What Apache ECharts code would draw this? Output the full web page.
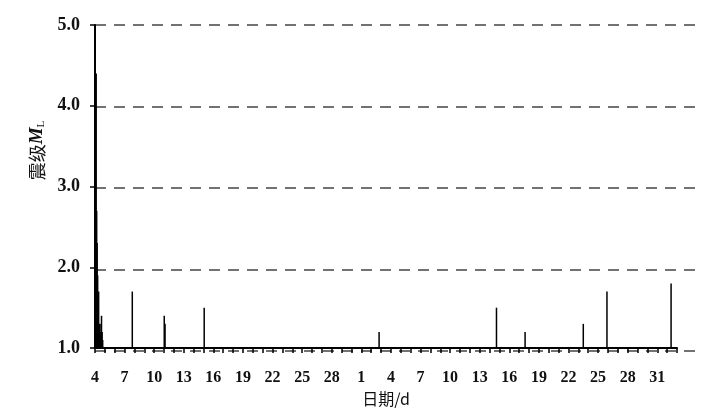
<!DOCTYPE html>
<html>
<head>
<meta charset="utf-8">
<script src="https://cdn.jsdelivr.net/npm/echarts@6/dist/echarts.min.js"></script>
<style>html,body{margin:0;padding:0;background:#fff}#c{width:710px;height:412px}</style>
</head>
<body>
<div id="c"></div>
<script>
// day index: 0 = day 4 of first month (30 days), 27 = day 1 of second month
const eventDays = [0.12, 0.17, 0.22, 0.27, 0.37, 0.42, 0.47, 0.52, 0.57, 0.62, 0.66, 0.72, 0.78,
  3.78, 7.02, 7.1, 11.07, 28.8, 40.7, 43.6, 49.5, 51.9, 58.4];
const magnitudes = [4.4, 2.7, 2.3, 1.9, 1.7, 1.2, 1.3, 1.2, 1.1, 1.3, 1.4, 1.2, 1.1,
  1.7, 1.4, 1.3, 1.5, 1.2, 1.5, 1.2, 1.3, 1.7, 1.8];
const yTicks = [1, 2, 3, 4, 5];
const firstMonthStart = 4, firstMonthLen = 30;

function dayLabel(i) {
  if (Math.abs(i - Math.round(i)) > 1e-6) return '';
  i = Math.round(i);
  if (i % 3 !== 0) return '';
  const d = firstMonthStart + i;
  return String(d <= firstMonthLen ? d : d - firstMonthLen);
}

const chart = echarts.init(document.getElementById('c'), null, {renderer: 'canvas'});
const serif = '"Liberation Serif","Times New Roman",serif';
const cjk = '"Noto Sans CJK SC",sans-serif';
chart.setOption({
  animation: false,
  backgroundColor: '#fff',
  grid: [
    {left: 95, right: 33, top: 25, bottom: 61},
    {left: 95, right: 10, top: 25, bottom: 61}
  ],
  xAxis: [{
    type: 'value', min: 0, max: 59, interval: 1, gridIndex: 0,
    axisLine: {show: true, lineStyle: {color: '#000', width: 2}},
    axisTick: {show: true, length: 5, lineStyle: {color: '#000', width: 1.5}},
    axisLabel: {formatter: dayLabel, color: '#111', fontFamily: serif, fontWeight: 'bold', fontSize: 16, margin: 22, showMinLabel: true, showMaxLabel: true, hideOverlap: false, interval: 0},
    splitLine: {show: false},
    name: '日期/d', nameLocation: 'middle', nameGap: 36,
    nameTextStyle: {fontFamily: cjk, fontSize: 16, color: '#111'}
  }, {
    type: 'value', min: 0, max: 1, gridIndex: 1, show: false
  }],
  yAxis: [{
    type: 'value', min: 1, max: 5, interval: 1, gridIndex: 0, offset: 3,
    axisLine: {show: true, lineStyle: {color: '#000', width: 2}},
    axisTick: {show: true, length: 5, lineStyle: {color: '#000', width: 1.5}},
    axisLabel: {formatter: v => v.toFixed(1), color: '#111', fontFamily: serif, fontWeight: 'bold', fontSize: 18, margin: 12},
    splitLine: {show: false},
    name: '{a|震级}{m|M}{s|L}', nameLocation: 'middle', nameGap: 44,
    nameTextStyle: {
      padding: [0, 0, 0, 72],
      rich: {
        a: {fontFamily: cjk, fontSize: 18, color: '#111'},
        m: {fontFamily: serif, fontSize: 19, fontStyle: 'italic', fontWeight: 'bold', color: '#111'},
        s: {fontFamily: serif, fontSize: 11, color: '#111', verticalAlign: 'bottom', padding: [6, 0, 0, 0]}
      }
    }
  }, {
    type: 'value', min: 1, max: 5, interval: 1, gridIndex: 1,
    axisLine: {show: false}, axisTick: {show: false}, axisLabel: {show: false},
    splitLine: {show: true, lineStyle: {color: '#444', width: 1.5, type: [11, 8]}}
  }],
  series: [{
    type: 'custom',
    xAxisIndex: 0, yAxisIndex: 0,
    data: eventDays.map((d, i) => [d, magnitudes[i]]),
    renderItem: function (params, api) {
      const p0 = api.coord([api.value(0), 1]);
      const p1 = api.coord([api.value(0), api.value(1)]);
      return {type: 'line', shape: {x1: p0[0], y1: p0[1], x2: p1[0], y2: p1[1]},
        style: {stroke: '#000', lineWidth: 1.5}};
    },
    z: 3
  }]
});
</script>
</body>
</html>
